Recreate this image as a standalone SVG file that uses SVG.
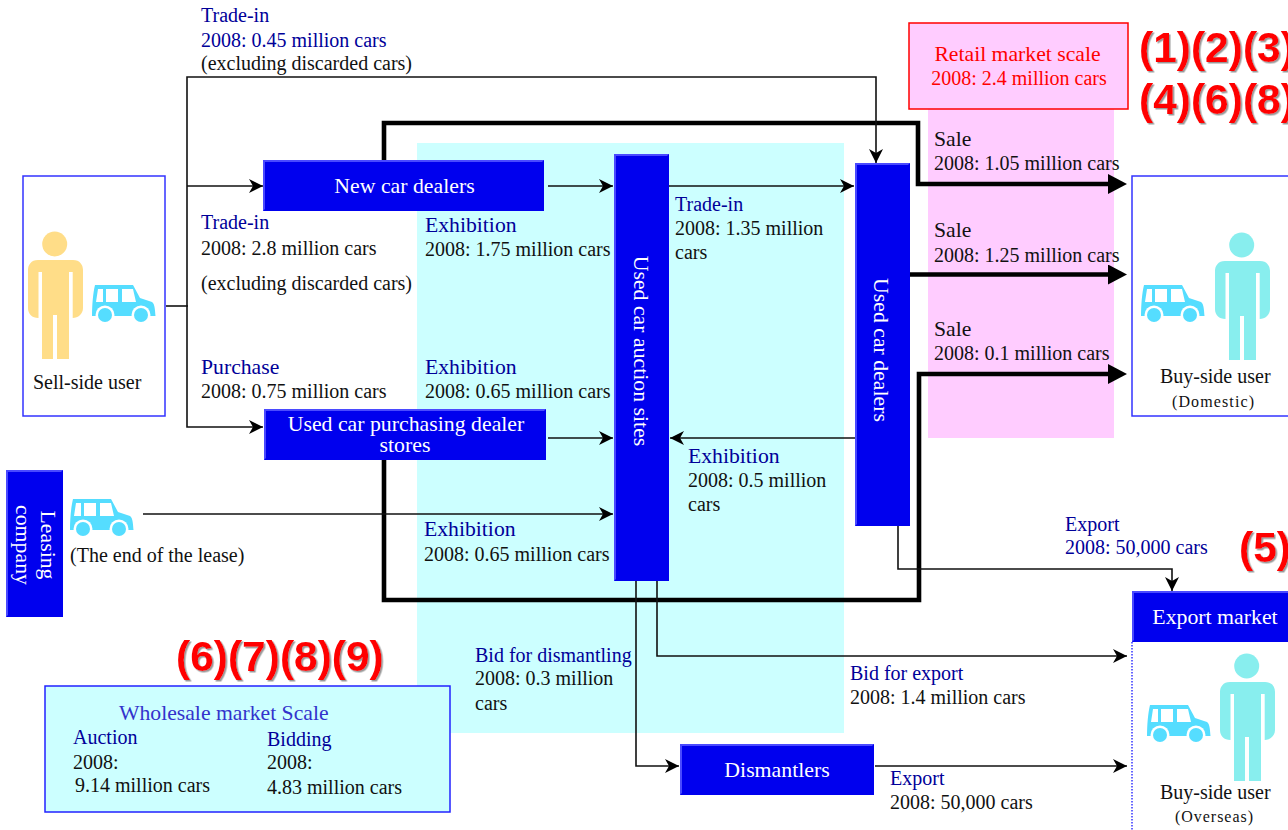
<svg xmlns="http://www.w3.org/2000/svg" xmlns:xlink="http://www.w3.org/1999/xlink" width="1288" height="830" viewBox="0 0 1288 830">
<style>
text{font-family:"Liberation Serif","Times New Roman",serif;font-size:20px;fill:#111}
.h{font-size:21.7px}
.b{fill:#000099}
.w{fill:#fff;text-anchor:middle;font-size:21.8px}
.r{fill:#ff0000;text-anchor:middle}
.s{font-size:16px}
.big{font-family:"Liberation Sans",Arial,sans-serif;font-weight:bold;font-size:42.5px;fill:#ff0000;filter:url(#sh)}
.node{fill:#0000ee}
.lt{fill:#4a4aff}
.thin{fill:none;stroke:#111;stroke-width:1.6;marker-end:url(#a)}
.plain{fill:none;stroke:#111;stroke-width:1.6}
.thick{fill:none;stroke:#000;stroke-width:4.6;marker-end:url(#A)}
.fr{fill:#fff;stroke:#3333ff;stroke-width:1.5}
</style>
<defs>
<filter id="sh" x="-5%" y="-5%" width="110%" height="120%"><feDropShadow dx="1.5" dy="1.5" stdDeviation="0.7" flood-color="#999"/></filter>
<marker id="a" markerUnits="userSpaceOnUse" markerWidth="16" markerHeight="16" refX="14" refY="8" orient="auto"><path d="M0 1 L14 8 L0 15 L4 8Z" fill="#000"/></marker>
<marker id="A" markerUnits="userSpaceOnUse" markerWidth="22" markerHeight="22" refX="2" refY="10" orient="auto"><path d="M0 0 L19 10 L0 20Z" fill="#000"/></marker>
<symbol id="car" viewBox="0 0 64 38" overflow="visible"><path d="M3 0H41L48 13L60 17C63 19 63 26 63.500 31H0C0 20 1 8 3 0Z" fill="#55ddff"/><path d="M6 4H11V17H4ZM14 4H26V17H14ZM30 4H41L44 17H30Z" fill="#fff"/><circle cx="13" cy="30" r="9.500" fill="#fff"/><circle cx="49" cy="30" r="9.500" fill="#fff"/><circle cx="13" cy="30" r="7" fill="#55ddff"/><circle cx="49" cy="30" r="7" fill="#55ddff"/></symbol>
<symbol id="man" viewBox="0 0 56 128" overflow="visible"><circle cx="26.700" cy="12" r="12.500"/><path d="M10 28H45C52 28 55 33 55 38V76C55 82 50 86 44.700 86V40H41V127H29V83H25V127H14V40H10.500V86C4 86 0 82 0 76V38C0 33 3 28 10 28Z"/></symbol>
</defs>
<rect width="1288" height="830" fill="#fff"/>
<rect x="417" y="143" width="427" height="590" fill="#ccffff"/>
<rect x="928" y="105" width="186" height="333" fill="#ffccff"/>

<g id="connectors">
<path class="thick" d="M384 162V123H918V184H1110"/>
<path class="thick" d="M384 458V600H919V374H1110"/>
<path class="thick" d="M908 274.500H1110"/>
<path class="plain" d="M166 306H188"/>
<path class="thin" d="M187 306V77H876V163"/>
<path class="thin" d="M187 306V427H263"/>
<path class="thin" d="M187 186H263"/>
<path class="thin" d="M548 186H613"/>
<path class="thin" d="M669 186H854"/>
<path class="thin" d="M548 438H613"/>
<path class="thin" d="M855 438H670"/>
<path class="thin" d="M143 514H613"/>
<path class="thin" d="M898 525V569H1172V591"/>
<path class="thin" d="M657 580V656H1127"/>
<path class="thin" d="M636 580V766H679"/>
<path class="thin" d="M875 766H1127"/>
</g>

<g id="retail"><rect x="909" y="23" width="219" height="86" fill="#ffccff" stroke="#ff0000" stroke-width="1.5"/>
<text class="r h" x="1017.500" y="61">Retail market scale</text><text class="r" x="1019" y="85">2008: 2.4 million cars</text></g>
<text class="big" x="1139" y="62">(1)(2)(3)</text>
<text class="big" x="1139" y="114">(4)(6)(8)</text>
<text class="big" x="1239" y="562">(5)</text>
<text class="big" x="176" y="671">(6)(7)(8)(9)</text>

<g id="seller"><rect class="fr" x="23" y="176" width="142" height="240"/>
<use xlink:href="#man" href="#man" x="28" y="232" width="56" height="128" fill="#ffdd88"/>
<use xlink:href="#car" href="#car" x="92" y="285" width="64" height="38"/>
<text x="33" y="389">Sell-side user</text></g>

<g id="buyer"><rect class="fr" x="1132" y="176" width="160" height="240"/>
<use xlink:href="#man" href="#man" x="1215" y="233" width="56" height="128" fill="#88eeee"/>
<use xlink:href="#car" href="#car" x="1141" y="285" width="64" height="38"/>
<text x="1160" y="383">Buy-side user</text><text class="s" x="1172" y="407" textLength="82">(Domestic)</text></g>

<g id="new-car-dealers"><rect class="node" x="263" y="160" width="281" height="51"/><path class="lt" d="M263 160H544L542 162H265V209L263 211Z"/>
<text class="w" x="404.500" y="193">New car dealers</text></g>

<g id="purchasing"><rect class="node" x="264" y="409" width="282" height="51"/><path class="lt" d="M264 409H546L544 411H266V458L264 460Z"/>
<text class="w" x="406" y="431">Used car purchasing dealer</text><text class="w" x="405" y="452">stores</text></g>

<g id="auction"><rect class="node" x="614" y="154" width="55" height="427"/><path class="lt" d="M614 154H669L667 156H616V579L614 581Z"/>
<text class="w" transform="translate(634 351) rotate(90)">Used car auction sites</text></g>

<g id="used-dealers"><rect class="node" x="855" y="163" width="55" height="363"/><path class="lt" d="M855 163H910L908 165H857V524L855 526Z"/>
<text class="w" transform="translate(874 350) rotate(90)">Used car dealers</text></g>

<g id="leasing"><rect class="node" x="6" y="470" width="57" height="147"/><path class="lt" d="M6 470H63L61 472H8V615L6 617Z"/>
<text class="w" transform="translate(41 545) rotate(90)">Leasing</text><text class="w" transform="translate(16 545) rotate(90)">company</text></g>
<use xlink:href="#car" href="#car" x="70" y="499" width="64" height="38"/>
<text x="70" y="562">(The end of the lease)</text>

<g id="dismantlers"><rect class="node" x="680" y="744" width="194" height="51"/><path class="lt" d="M680 744H874L872 746H682V793L680 795Z"/>
<text class="w" x="777" y="777">Dismantlers</text></g>

<g id="export"><path d="M1132 642V830" fill="none" stroke="#3333ff" stroke-width="1.500" stroke-dasharray="1.500 1.500"/>
<rect class="node" x="1132" y="591" width="160" height="51"/><path class="lt" d="M1132 591H1288V593H1134V640L1132 642Z"/>
<text class="w" x="1215" y="624">Export market</text>
<use xlink:href="#man" href="#man" x="1220" y="654" width="56" height="128" fill="#88eeee"/>
<use xlink:href="#car" href="#car" x="1147" y="705" width="64" height="38"/>
<text x="1160" y="799">Buy-side user</text><text class="s" x="1175" y="822" textLength="78">(Overseas)</text></g>

<g id="wholesale"><rect x="45" y="686" width="405" height="126" fill="#ccffff" stroke="#2222ff" stroke-width="1.500"/>
<text class="h" x="119" y="720" style="fill:#3333cc">Wholesale market Scale</text>
<text class="b" x="73" y="744">Auction</text><text x="73" y="769">2008:</text><text x="75" y="792">9.14 million cars</text>
<text class="b" x="267" y="746">Bidding</text><text x="267" y="769">2008:</text><text x="267" y="794">4.83 million cars</text></g>

<g id="labels">
<text class="b" x="201" y="22">Trade-in</text><text class="b" x="201" y="47">2008: 0.45 million cars</text><text x="201" y="70">(excluding discarded cars)</text>
<text class="b" x="201" y="229">Trade-in</text><text x="201" y="255">2008: 2.8 million cars</text><text x="201" y="290">(excluding discarded cars)</text>
<text class="b h" x="201" y="374">Purchase</text><text x="201" y="398">2008: 0.75 million cars</text>
<text class="b h" x="425" y="232">Exhibition</text><text x="425" y="256">2008: 1.75 million cars</text>
<text class="b h" x="425" y="374">Exhibition</text><text x="425" y="398">2008: 0.65 million cars</text>
<text class="b h" x="424" y="536">Exhibition</text><text x="424" y="561">2008: 0.65 million cars</text>
<text class="b" x="675" y="211">Trade-in</text><text x="675" y="235">2008: 1.35 million</text><text x="675" y="259">cars</text>
<text class="b h" x="688" y="463">Exhibition</text><text x="688" y="487">2008: 0.5 million</text><text x="688" y="511">cars</text>
<text class="h" x="934" y="146">Sale</text><text x="934" y="170">2008: 1.05 million cars</text>
<text class="h" x="934" y="237">Sale</text><text x="934" y="262">2008: 1.25 million cars</text>
<text class="h" x="934" y="336">Sale</text><text x="934" y="360">2008: 0.1 million cars</text>
<text class="b" x="1065" y="531">Export</text><text class="b" x="1065" y="554">2008: 50,000 cars</text>
<text class="b" x="475" y="662">Bid for dismantling</text><text x="475" y="685">2008: 0.3 million</text><text x="475" y="710">cars</text>
<text class="b" x="850" y="680">Bid for export</text><text x="850" y="704">2008: 1.4 million cars</text>
<text class="b" x="890" y="785">Export</text><text x="890" y="809">2008: 50,000 cars</text>
</g>
</svg>
